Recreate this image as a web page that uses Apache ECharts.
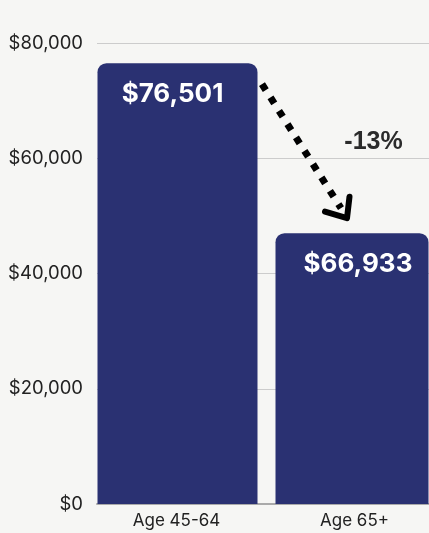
<!DOCTYPE html>
<html>
<head>
<meta charset="utf-8">
<script src="https://cdn.jsdelivr.net/npm/echarts@6/dist/echarts.min.js"></script>
<style>
html,body{margin:0;padding:0;background:#f6f6f4;}
#c{width:429px;height:533px;}
</style>
</head>
<body>
<div id="c"></div>
<script>
// ---- data ----
const categories = ['Age 45-64', 'Age 65+'];
const barHeights = [76501, 47000];          // bar heights as drawn on the axis
const barLabels = ['$76,501', '$66,933'];   // value labels printed on the bars
const changeLabel = '-13%';
const yTicks = [0, 20000, 40000, 60000, 80000];

const barColor = '#2a3172';
const chart = echarts.init(document.getElementById('c'), null, {renderer: 'canvas'});

function fmt(v){ return '$' + v.toLocaleString('en-US'); }

chart.setOption({
  backgroundColor: '#f6f6f4',
  animation: false,
  grid: {left: 97, right: 0, top: 43, bottom: 29},
  xAxis: {
    type: 'category',
    data: categories,
    axisLine: {show: true, lineStyle: {color: '#aaaaaa', width: 2}},
    axisTick: {show: false},
    axisLabel: {
      color: '#222', fontSize: 17, margin: 8,
      fontFamily: 'Inter',
      formatter: function(v, i){ return i === 0 ? '{a|' + v + '}' : '{b|' + v + '}'; },
      rich: {
        a: {color: '#222', fontSize: 17, fontFamily: 'Inter', padding: [0, 7, 0, 0]},
        b: {color: '#222', fontSize: 17, fontFamily: 'Inter', padding: [0, 0, 0, 17]}
      }
    }
  },
  yAxis: {
    type: 'value',
    min: yTicks[0], max: yTicks[yTicks.length - 1], interval: 20000,
    axisLine: {show: false},
    axisTick: {show: false},
    axisLabel: {color: '#222', fontSize: 18.5, margin: 14, fontFamily: 'Inter', formatter: fmt},
    splitLine: {lineStyle: {color: '#cccccc', width: 1}}
  },
  series: [
    {
      type: 'bar',
      data: [barHeights[0], '-'],
      barWidth: 160,
      barGap: '-92.5%',
      itemStyle: {color: barColor, borderRadius: [9, 9, 0, 0]},
      label: {
        show: true, position: 'insideTop', distance: 18, offset: [-5, 0],
        formatter: function(){ return barLabels[0]; },
        color: '#fff', fontSize: 26, fontWeight: 'bold', fontFamily: 'Inter'
      }
    },
    {
      type: 'bar',
      data: ['-', barHeights[1]],
      barWidth: 153,
      barGap: '-92.5%',
      itemStyle: {color: barColor, borderRadius: [9, 9, 0, 0]},
      label: {
        show: true, position: 'insideTop', distance: 18, offset: [6, 0],
        formatter: function(){ return barLabels[1]; },
        color: '#fff', fontSize: 26, fontWeight: 'bold', fontFamily: 'Inter'
      }
    }
  ]
});

// ---- annotation (arrow + percentage), anchored to data positions ----
const p1 = chart.convertToPixel({xAxisIndex: 0, yAxisIndex: 0}, [categories[0], barHeights[0]]);
const p2 = chart.convertToPixel({xAxisIndex: 0, yAxisIndex: 0}, [categories[1], barHeights[1]]);
const topY = chart.convertToPixel({yAxisIndex: 0}, yTicks[4]);
const start = [p1[0] + 82, p1[1] + 21];
const tip = [p2[0] + 1, p2[1] - 15];
const lineEnd = [tip[0] - 6, tip[1] - 10];

chart.setOption({
  graphic: [
    {
      type: 'line', silent: true,
      shape: {x1: start[0], y1: start[1], x2: lineEnd[0], y2: lineEnd[1]},
      style: {stroke: '#000', lineWidth: 7, lineDash: [7, 8.8], lineCap: 'butt'}
    },
    {
      type: 'polyline', silent: true,
      shape: {points: [[tip[0] - 22, tip[1] - 6.5], tip, [tip[0] + 2.5, tip[1] - 21.5]]},
      style: {stroke: '#000', fill: null, lineWidth: 6, lineCap: 'round', lineJoin: 'round'}
    },
    {
      type: 'text', silent: true,
      x: p2[0] + 27.5, y: topY + 98.7,
      style: {
        text: changeLabel, fill: '#2b2b2b', fontSize: 25, fontWeight: 'bold',
        fontFamily: 'Liberation Sans', align: 'center', verticalAlign: 'middle'
      }
    }
  ]
});
</script>
</body>
</html>
